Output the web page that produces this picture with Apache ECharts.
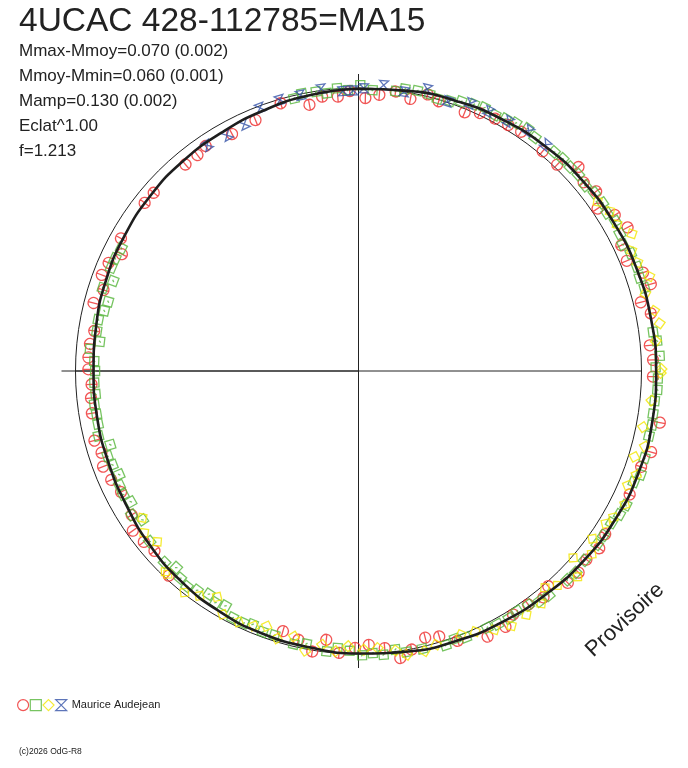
<!DOCTYPE html>
<html>
<head>
<meta charset="utf-8">
<script src="https://cdn.jsdelivr.net/npm/echarts@6/dist/echarts.min.js"></script>
<style>
html,body{margin:0;padding:0;background:#fff;}
#main{width:688px;height:768px;}
</style>
</head>
<body>
<div id="main"></div>
<script>
// phase (0..1, clockwise from top) and magnitude offset from mean (positive = fainter)
var fitPhase = [0,0.028,0.056,0.083,0.111,0.139,0.167,0.194,0.222,0.250,0.278,0.306,0.333,0.361,0.389,0.417,0.444,0.472,0.500,0.528,0.556,0.583,0.611,0.639,0.667,0.694,0.722,0.750,0.778,0.806,0.833,0.861,0.889,0.917,0.944,0.972,1.0];
var fitMag = [0.003,-0.006,-0.016,-0.026,-0.035,-0.042,-0.047,-0.051,-0.054,-0.056,-0.058,-0.057,-0.052,-0.044,-0.033,-0.024,-0.016,-0.007,0.002,0.009,0.013,0.020,0.030,0.043,0.057,0.064,0.067,0.069,0.064,0.056,0.049,0.042,0.036,0.031,0.022,0.011,0.003];

var redPhase = [0.004,0.012,0.021,0.030,0.039,0.046,0.062,0.070,0.079,0.087,0.095,0.111,0.122,0.131,0.139,0.147,0.155,0.163,0.172,0.179,0.188,0.197,0.204,0.212,0.219,0.236,0.244,
  0.253,0.277,0.293,0.302,0.318,0.343,0.351,0.360,0.368,0.376,0.385,0.391,0.400,0.410,0.417,0.428,0.444,0.453,0.461,0.470,0.477,0.485,0.494,
  0.502,0.511,0.519,0.526,0.535,0.545,0.619,0.635,0.643,0.652,0.660,0.675,0.684,0.693,0.701,0.709,0.725,0.734,0.742,0.751,
  0.758,0.766,0.774,0.790,0.799,0.807,0.815,0.823,0.831,0.856,0.864,0.889,0.898,0.905,0.922,0.938,0.955,0.971,0.979,0.988,0.995];
var redMag = [0.038,0.023,0.004,0.023,-0.008,0.006,0.013,-0.008,-0.015,-0.019,-0.024,-0.014,-0.013,-0.065,-0.041,-0.057,-0.023,-0.065,-0.084,-0.032,-0.027,-0.069,-0.084,-0.029,-0.057,-0.036,-0.045,
  -0.044,-0.087,-0.079,-0.059,-0.057,-0.049,-0.061,-0.049,-0.059,-0.057,-0.015,-0.036,-0.022,-0.021,-0.046,-0.047,-0.017,0.021,0.031,-0.002,-0.027,0.018,0.034,
  0.023,0.002,0.047,-0.005,0.029,0.046,0.015,0.042,0.033,0.025,0.055,0.063,0.049,0.039,0.051,0.038,0.050,0.054,0.060,0.049,
  0.048,0.050,0.060,0.036,0.059,0.034,0.041,0.073,0.042,0.042,0.044,0.052,0.052,0.042,0.055,0.045,0.016,0.047,0.024,0.030,0.011];

var greenPhase = [0.001,0.008,0.021,0.026,0.033,0.040,0.045,0.052,0.058,0.065,0.071,0.078,0.084,0.090,0.097,0.103,0.116,0.122,0.128,0.134,0.141,0.147,0.154,0.160,0.166,0.173,0.179,0.185,0.193,0.199,0.205,0.229,0.234,0.242,0.248,
  0.254,0.260,0.266,0.273,0.279,0.285,0.297,0.306,0.311,0.324,0.330,0.336,0.344,0.350,0.361,0.369,0.375,0.388,0.394,0.400,0.407,0.413,0.420,0.426,0.439,0.445,0.451,0.464,0.473,0.479,0.486,0.492,0.498,
  0.505,0.512,0.518,0.530,0.537,0.549,0.556,0.563,0.568,0.575,0.582,0.588,0.594,0.601,0.607,0.613,0.619,0.626,0.641,0.654,0.660,0.667,0.673,0.679,0.685,0.692,0.698,0.704,0.711,0.718,0.724,0.730,0.736,0.743,0.750,
  0.756,0.763,0.768,0.774,0.781,0.787,0.793,0.800,0.806,0.813,0.819,0.826,0.963,0.968,0.976,0.982,0.988,0.994];
var greenMag = [-0.011,0.007,0.003,-0.011,-0.013,-0.010,-0.002,-0.008,-0.021,-0.029,-0.034,-0.027,-0.034,-0.041,-0.048,-0.037,-0.041,-0.044,-0.042,-0.045,-0.038,-0.048,-0.051,-0.044,-0.055,-0.047,-0.038,-0.052,-0.055,-0.051,-0.057,-0.054,-0.065,-0.071,-0.054,
  -0.063,-0.063,-0.056,-0.056,-0.059,-0.056,-0.061,-0.067,-0.053,-0.062,-0.057,-0.046,-0.046,-0.046,-0.045,-0.051,-0.047,-0.043,-0.038,-0.024,-0.019,-0.025,-0.023,-0.016,-0.016,-0.006,-0.018,-0.008,-0.008,0.008,-0.007,0.002,-0.005,
  0.012,0.020,0.003,0.020,0.009,0.022,0.020,0.032,0.023,0.023,0.050,0.041,0.055,0.041,0.029,0.037,0.057,0.040,0.051,0.079,0.055,0.078,0.066,0.069,0.085,0.075,0.069,0.092,0.057,0.066,0.067,0.064,0.073,0.071,0.075,
  0.071,0.052,0.087,0.070,0.068,0.083,0.089,0.054,0.083,0.057,0.057,0.061,0.011,-0.001,0.002,0.013,-0.002,0.007];

var yellowPhase = [0.152,0.160,0.168,0.176,0.184,0.191,0.200,0.208,0.218,0.225,0.234,0.249,0.251,0.266,0.281,0.291,0.298,0.307,0.314,0.324,0.333,0.338,0.349,0.356,0.364,0.370,0.381,0.387,0.394,0.404,0.414,0.423,0.433,0.441,0.456,0.463,0.473,0.479,0.489,0.497,
  0.506,0.513,0.521,0.530,0.538,0.547,0.555,0.562,0.571,0.581,0.589,0.598,0.606,0.620,0.622,0.638,0.647,0.655];
var yellowMag = [-0.038,-0.057,-0.054,-0.088,-0.059,-0.063,-0.088,-0.054,-0.072,-0.084,-0.061,-0.076,-0.073,-0.044,-0.027,-0.050,-0.023,-0.052,-0.036,-0.057,-0.042,-0.029,-0.019,-0.052,-0.006,-0.067,-0.036,-0.011,-0.049,-0.050,-0.055,-0.036,-0.010,0.000,-0.006,-0.019,-0.019,0.004,0.020,0.016,
  0.029,0.007,0.026,-0.007,0.037,0.013,0.045,0.028,0.018,0.016,0.063,0.029,0.005,0.017,0.017,0.073,0.055,0.083];

var bluePhase = [0.906,0.919,0.931,0.943,0.955,0.967,0.979,0.991,0.997,0.003,0.014,0.026,0.038,0.051,0.063,0.074,0.086,0.098,0.110];
var blueMag = [0.043,0.050,0.042,0.008,0.003,0.004,-0.006,0.010,0.009,0.001,-0.015,0.000,-0.027,-0.004,-0.027,-0.029,-0.032,-0.044,-0.041];

var infoLines = ['Mmax-Mmoy=0.070 (0.002)','Mmoy-Mmin=0.060 (0.001)','Mamp=0.130 (0.002)','Eclat^1.00','f=1.213'];

var FONT = "'Liberation Sans', Arial, sans-serif";
var circlePath = 'path://M0,-5A5,5 0 1 1 0,5A5,5 0 1 1 0,-5ZM0,-5L0,5';
var squarePath = 'path://M0,0L10,0L10,10L0,10ZM4,6L6,4';
var diamondPath = 'path://M5,0L10,5L5,10L0,5Z';
var hourglassPath = 'path://M0,0L10,0L0,10L10,10Z';

function pts(ph, mg) {
  return mg.map(function (m, i) { return [m, ph[i]]; });
}

var dom = document.getElementById('main');
var myChart = echarts.init(dom);

function obsSeries(name, ph, mg, symbol, size, col) {
  return {
    name: name,
    type: 'scatter',
    coordinateSystem: 'polar',
    polarIndex: 2,
    clip: false,
    symbol: symbol,
    symbolSize: size,
    symbolRotate: function (v) { return -v[1] * 360; },
    itemStyle: { color: 'transparent', borderColor: col, borderWidth: 1.3 },
    data: pts(ph, mg),
    z: 2
  };
}

var hidden = { axisLine: { show: false }, axisTick: { show: false }, axisLabel: { show: false }, splitLine: { show: false } };

option = {
  backgroundColor: '#fff',
  animation: false,
  title: [{
    text: '4UCAC 428-112785=MA15',
    subtext: infoLines.join('\n'),
    left: 19, top: 5, padding: 0, itemGap: 0,
    textStyle: { fontFamily: FONT, fontSize: 33.5, fontWeight: 'normal', color: '#222' },
    subtextStyle: { fontFamily: FONT, fontSize: 17, color: '#222', lineHeight: 25 }
  }, {
    text: '(c)2026 OdG-R8',
    left: 19, top: 747, padding: 0,
    textStyle: { fontFamily: FONT, fontSize: 8.5, fontWeight: 'normal', color: '#222' }
  }],
  legend: {
    left: 17, top: 699, padding: 0,
    itemWidth: 11, itemHeight: 11, itemGap: 0.5,
    selectedMode: false,
    textStyle: { fontFamily: FONT, fontSize: 11, color: '#222' },
    formatter: function (n) { return n === 'blue' ? 'Maurice Audejean' : ''; },
    data: [
      { name: 'red', icon: 'path://M0,-5A5,5 0 1 1 0,5A5,5 0 1 1 0,-5Z', itemStyle: { color: 'transparent', borderColor: '#ee2b2b', borderWidth: 1.2 } },
      { name: 'green', icon: 'path://M0,0L10,0L10,10L0,10Z', itemStyle: { color: 'transparent', borderColor: '#55b53a', borderWidth: 1.2 } },
      { name: 'yellow', icon: diamondPath, itemStyle: { color: 'transparent', borderColor: '#f2e600', borderWidth: 1.2 } },
      { name: 'blue', icon: hourglassPath, itemStyle: { color: 'transparent', borderColor: '#3452a8', borderWidth: 1.2 } }
    ]
  },
  polar: [
    { center: [358.5, 371], radius: 297 },  // cross (top, left, bottom arms)
    { center: [358.5, 371], radius: 283 },  // mean-magnitude circle and right arm
    { center: [358.5, 371], radius: 320 }   // data
  ],
  angleAxis: [
    Object.assign({}, hidden, {
      polarIndex: 0, type: 'value', min: 0, max: 1, interval: 0.25, startAngle: 90, clockwise: true,
      splitLine: { show: true, lineStyle: { color: ['#222', 'transparent', '#222', '#222'], width: 1 } }
    }),
    Object.assign({}, hidden, {
      polarIndex: 1, type: 'value', min: 0, max: 1, interval: 0.25, startAngle: 90, clockwise: true,
      axisLine: { show: true, lineStyle: { color: '#222', width: 1 } },
      splitLine: { show: true, lineStyle: { color: '#222', width: 1 } }
    }),
    Object.assign({}, hidden, { polarIndex: 2, type: 'value', min: 0, max: 1, startAngle: 90, clockwise: true })
  ],
  radiusAxis: [
    Object.assign({}, hidden, { polarIndex: 0, type: 'value', min: 0, max: 1 }),
    Object.assign({}, hidden, { polarIndex: 1, type: 'value', min: 0, max: 1 }),
    // mean magnitude (0) falls on the 283px circle, brighter outward
    Object.assign({}, hidden, { polarIndex: 2, type: 'value', inverse: true, min: -0.1415, max: 1.082 })
  ],
  graphic: [{
    type: 'text', x: 625, y: 620, rotation: 43 * Math.PI / 180,
    style: { text: 'Provisoire', fontFamily: FONT, fontSize: 22, fill: '#222', align: 'center', verticalAlign: 'middle' }
  }],
  series: [
    obsSeries('red', redPhase, redMag, circlePath, 11, '#ee2b2b'),
    obsSeries('green', greenPhase, greenMag, squarePath, 9, '#55b53a'),
    obsSeries('yellow', yellowPhase, yellowMag, diamondPath, 11, '#f2e600'),
    obsSeries('blue', bluePhase, blueMag, hourglassPath, 9, '#3452a8'),
    {
      name: 'fit',
      type: 'line',
      coordinateSystem: 'polar',
      polarIndex: 2,
      smooth: true,
      symbol: 'none',
      lineStyle: { color: '#1e1e1e', width: 2.6 },
      data: pts(fitPhase, fitMag),
      z: 3
    }
  ]
};

myChart.setOption(option, true);
</script>
</body>
</html>
